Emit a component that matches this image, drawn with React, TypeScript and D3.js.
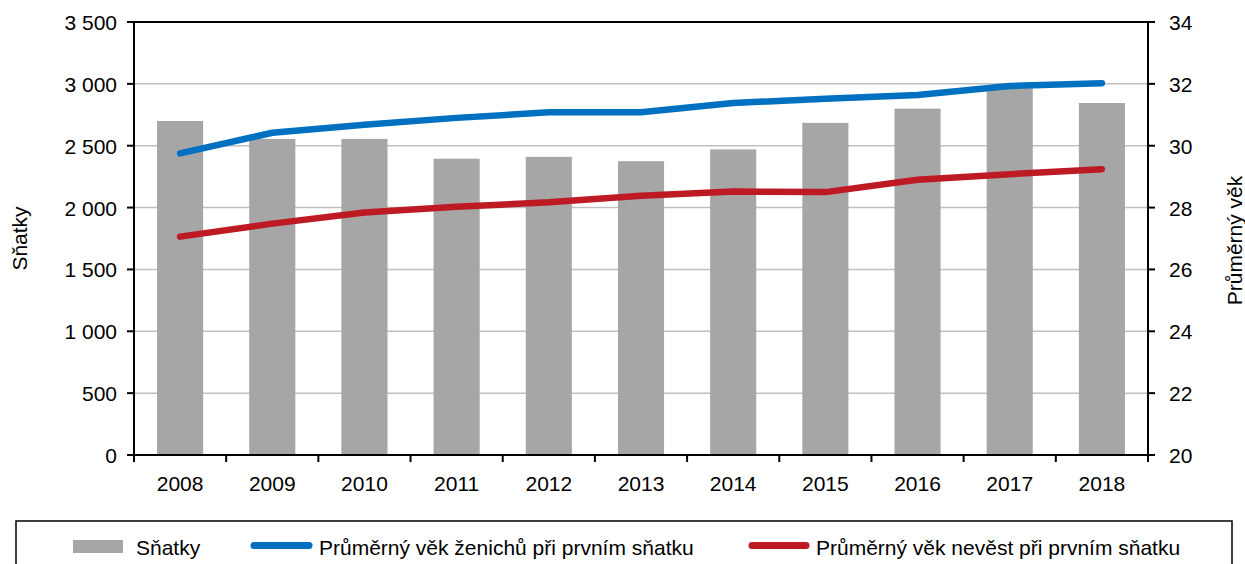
import React from "react";
import * as d3 from "d3";

const years = ["2008","2009","2010","2011","2012","2013","2014","2015","2016","2017","2018"];
const marriages = [2700, 2555, 2555, 2395, 2410, 2375, 2470, 2685, 2800, 2965, 2845];
const groomAge = [29.75, 30.42, 30.68, 30.9, 31.08, 31.08, 31.38, 31.52, 31.64, 31.93, 32.02];
const brideAge = [27.06, 27.48, 27.84, 28.03, 28.17, 28.38, 28.52, 28.5, 28.9, 29.08, 29.24];
const leftTicks = [0, 500, 1000, 1500, 2000, 2500, 3000, 3500];
const rightTicks = [20, 22, 24, 26, 28, 30, 32, 34];
const legendLabels = ["Sňatky", "Průměrný věk ženichů při prvním sňatku", "Průměrný věk nevěst při prvním sňatku"];
const leftTitle = "Sňatky";
const rightTitle = "Průměrný věk";

const W = 1245, H = 564;
const L = 134, R = 1148, T = 22, B = 455;
const FONT = "'Liberation Sans', Arial, sans-serif";
const FS = 21;
const BLUE = "#0070C0";
const RED = "#BE1A24";
const GRAY = "#A6A6A6";

const fmt = (v: number) => {
  const s = String(v);
  return s.length > 3 ? s.slice(0, s.length - 3) + " " + s.slice(-3) : s;
};

export default function App() {
  const x = d3.scaleBand<string>().domain(years).range([L, R]).paddingInner(0.5).paddingOuter(0.25);
  const xc = (d: string) => (x(d) as number) + x.bandwidth() / 2;
  const yL = d3.scaleLinear().domain([0, 3500]).range([B, T]);
  const yR = d3.scaleLinear().domain([20, 34]).range([B, T]);
  const step = (R - L) / years.length;
  const line = d3.line<number>().x((_, i) => xc(years[i])).y((v) => yR(v));

  return (
    <svg width={W} height={H} style={{ position: "absolute", left: 0, top: 0, background: "#fff" }} fontFamily={FONT}>
      {leftTicks.slice(1, -1).map((t) => (
        <line key={"g" + t} x1={L} x2={R} y1={yL(t)} y2={yL(t)} stroke="#C0C0C0" strokeWidth={1.5} />
      ))}
      {marriages.map((v, i) => (
        <rect key={"b" + i} x={x(years[i])} y={yL(v)} width={x.bandwidth()} height={B - yL(v)} fill={GRAY} />
      ))}
      <path d={line(groomAge) || ""} fill="none" stroke={BLUE} strokeWidth={6.5} strokeLinecap="round" strokeLinejoin="round" />
      <path d={line(brideAge) || ""} fill="none" stroke={RED} strokeWidth={6.5} strokeLinecap="round" strokeLinejoin="round" />
      <line x1={L} x2={R} y1={T} y2={T} stroke="#000" strokeWidth={2} />
      <line x1={L} x2={L} y1={T - 1} y2={B + 1} stroke="#000" strokeWidth={2} />
      <line x1={R} x2={R} y1={T - 1} y2={B + 1} stroke="#000" strokeWidth={2} />
      <line x1={L - 1} x2={R + 1} y1={B} y2={B} stroke="#000" strokeWidth={2} />
      {leftTicks.map((t) => (
        <g key={"l" + t}>
          <line x1={L - 7} x2={L} y1={yL(t)} y2={yL(t)} stroke="#000" strokeWidth={2} />
          <text x={117} y={yL(t) + 8} textAnchor="end" fontSize={FS} fill="#000">{fmt(t)}</text>
        </g>
      ))}
      {rightTicks.map((t) => (
        <g key={"r" + t}>
          <line x1={R} x2={R + 7} y1={yR(t)} y2={yR(t)} stroke="#000" strokeWidth={2} />
          <text x={1169} y={yR(t) + 8} textAnchor="start" fontSize={FS} fill="#000">{t}</text>
        </g>
      ))}
      {d3.range(years.length + 1).map((i) => (
        <line key={"bt" + i} x1={L + i * step} x2={L + i * step} y1={B} y2={B + 7} stroke="#000" strokeWidth={2} />
      ))}
      {years.map((yv) => (
        <text key={"yl" + yv} x={xc(yv)} y={491} textAnchor="middle" fontSize={FS} fill="#000">{yv}</text>
      ))}
      <text transform={`translate(27,${(T + B) / 2}) rotate(-90)`} textAnchor="middle" fontSize={FS} fill="#000">{leftTitle}</text>
      <text transform={`translate(1242,${(T + B) / 2 + 2}) rotate(-90)`} textAnchor="middle" fontSize={FS} fill="#000">{rightTitle}</text>
      <rect x={16} y={521} width={1216} height={80} fill="none" stroke="#000" strokeWidth={1.5} />
      <rect x={73} y={540} width={50} height={13} fill={GRAY} />
      <text x={136} y={555} fontSize={FS} fill="#000">{legendLabels[0]}</text>
      <line x1={254} x2={309} y1={545.5} y2={545.5} stroke={BLUE} strokeWidth={7} strokeLinecap="round" />
      <text x={319} y={555} fontSize={FS} fill="#000">{legendLabels[1]}</text>
      <line x1={752} x2={806} y1={545.5} y2={545.5} stroke={RED} strokeWidth={7} strokeLinecap="round" />
      <text x={816} y={555} fontSize={FS} fill="#000">{legendLabels[2]}</text>
    </svg>
  );
}
